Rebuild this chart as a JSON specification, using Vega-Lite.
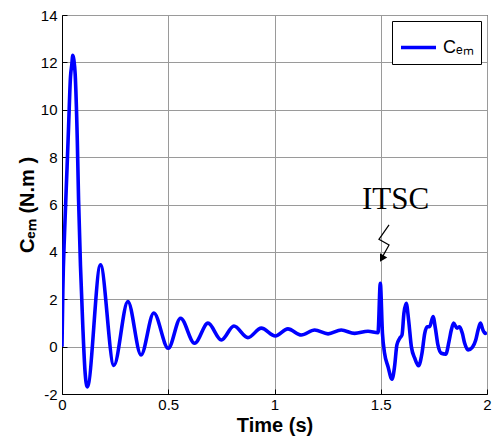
{
  "$schema": "https://vega.github.io/schema/vega-lite/v6.json",
  "autosize": "none",
  "width": 425,
  "height": 379,
  "padding": {"left": 62, "top": 15, "right": 7, "bottom": 42},
  "background": "white",
  "config": {
    "view": {"stroke": "black", "strokeWidth": 1},
    "axis": {
      "domainColor": "black",
      "domainWidth": 1,
      "grid": true,
      "gridColor": "#9a9a9a",
      "gridWidth": 1,
      "tickColor": "black",
      "tickSize": -5,
      "labelFont": "Liberation Sans",
      "labelFontSize": 15,
      "labelColor": "black",
      "titleFont": "Liberation Sans",
      "titleFontSize": 20,
      "titleFontWeight": "bold",
      "titleColor": "black"
    },
    "legend": {
      "orient": "top-right",
      "offset": 6,
      "padding": 7,
      "strokeColor": "black",
      "fillColor": "white",
      "cornerRadius": 0,
      "symbolType": "stroke",
      "symbolSize": 1225,
      "symbolStrokeWidth": 3.5,
      "labelFont": "Liberation Sans",
      "labelFontSize": 18,
      "labelColor": "black",
      "labelOffset": 5
    }
  },
  "layer": [
    {
      "data": {
        "values": [
          {"t": 0, "v": 0}, {"t": 0.004, "v": 2.4}, {"t": 0.012, "v": 4.8}, {"t": 0.024, "v": 7.6},
          {"t": 0.031, "v": 9.3}, {"t": 0.04, "v": 11.4}, {"t": 0.046, "v": 11.9}, {"t": 0.051, "v": 12.3},
          {"t": 0.056, "v": 12.1}, {"t": 0.062, "v": 11.5}, {"t": 0.072, "v": 8.7}, {"t": 0.078, "v": 6.2},
          {"t": 0.087, "v": 3.4}, {"t": 0.098, "v": 0.84}, {"t": 0.108, "v": -1.0}, {"t": 0.119, "v": -1.7},
          {"t": 0.181, "v": 3.45}, {"t": 0.244, "v": -0.79}, {"t": 0.31, "v": 1.9}, {"t": 0.372, "v": -0.35},
          {"t": 0.432, "v": 1.42}, {"t": 0.5, "v": -0.07}, {"t": 0.558, "v": 1.2}, {"t": 0.624, "v": 0.14},
          {"t": 0.687, "v": 0.99}, {"t": 0.75, "v": 0.28}, {"t": 0.809, "v": 0.87}, {"t": 0.875, "v": 0.38},
          {"t": 0.938, "v": 0.78}, {"t": 1.004, "v": 0.45}, {"t": 1.063, "v": 0.75}, {"t": 1.126, "v": 0.49},
          {"t": 1.189, "v": 0.7}, {"t": 1.252, "v": 0.54}, {"t": 1.314, "v": 0.7}, {"t": 1.377, "v": 0.56},
          {"t": 1.44, "v": 0.65}, {"t": 1.487, "v": 0.59}, {"t": 1.498, "v": 2.67}, {"t": 1.508, "v": 0.56},
          {"t": 1.518, "v": -0.28}, {"t": 1.534, "v": -0.84}, {"t": 1.553, "v": -1.38}, {"t": 1.565, "v": -0.84},
          {"t": 1.576, "v": 0.07}, {"t": 1.589, "v": 0.35}, {"t": 1.6, "v": 0.49}, {"t": 1.609, "v": 1.41},
          {"t": 1.62, "v": 1.83}, {"t": 1.631, "v": 1.13}, {"t": 1.644, "v": 0}, {"t": 1.66, "v": -0.49},
          {"t": 1.678, "v": -0.81}, {"t": 1.694, "v": -0.28}, {"t": 1.707, "v": 0.56}, {"t": 1.718, "v": 0.84},
          {"t": 1.73, "v": 0.84}, {"t": 1.746, "v": 1.27}, {"t": 1.757, "v": 0.78}, {"t": 1.769, "v": 0.07},
          {"t": 1.785, "v": -0.28}, {"t": 1.806, "v": -0.32}, {"t": 1.821, "v": 0.21}, {"t": 1.832, "v": 0.7},
          {"t": 1.843, "v": 0.99}, {"t": 1.859, "v": 0.78}, {"t": 1.871, "v": 0.84}, {"t": 1.884, "v": 0.56},
          {"t": 1.895, "v": 0.14}, {"t": 1.911, "v": -0.14}, {"t": 1.931, "v": -0.03}, {"t": 1.947, "v": 0.28},
          {"t": 1.958, "v": 0.7}, {"t": 1.969, "v": 0.99}, {"t": 1.981, "v": 0.7}, {"t": 1.992, "v": 0.56},
          {"t": 2.0, "v": 0.6}
        ]
      },
      "mark": {"type": "line", "interpolate": "monotone", "strokeWidth": 3.6, "clip": true},
      "encoding": {
        "x": {"field": "t", "type": "quantitative", "scale": {"domain": [0, 2], "nice": false},
              "axis": {"values": [0, 0.5, 1, 1.5, 2], "title": "Time (s)", "labelPadding": 8, "titlePadding": 3, "format": "~g", "labelFlush": false}},
        "y": {"field": "v", "type": "quantitative", "scale": {"domain": [-2, 14], "nice": false},
              "axis": {"values": [-2, 0, 2, 4, 6, 8, 10, 12, 14], "title": "Cₑₘ  (N.m )", "labelPadding": 10, "titlePadding": 3,
                       "labelExpr": "replace(datum.label, '−', '-')"}},
        "color": {"datum": "Cₑₘ", "scale": {"range": ["#0000ff"]}, "legend": {"title": null}}
      }
    },
    {
      "data": {"values": [{"t": 1.57, "v": 5.8, "label": "ITSC"}]},
      "mark": {"type": "text", "font": "Liberation Serif", "fontSize": 31, "align": "center", "baseline": "alphabetic", "color": "black"},
      "encoding": {
        "x": {"field": "t", "type": "quantitative"},
        "y": {"field": "v", "type": "quantitative"},
        "text": {"field": "label"}
      }
    },
    {
      "data": {"values": [
        {"t": 1.539, "v": 5.14, "o": 1},
        {"t": 1.4915, "v": 4.53, "o": 2},
        {"t": 1.539, "v": 4.29, "o": 3},
        {"t": 1.507, "v": 3.78, "o": 4}
      ]},
      "mark": {"type": "line", "color": "black", "strokeWidth": 1.2},
      "encoding": {
        "x": {"field": "t", "type": "quantitative"},
        "y": {"field": "v", "type": "quantitative"},
        "order": {"field": "o"}
      }
    },
    {
      "data": {"values": [{"t": 1.505, "v": 3.72}]},
      "mark": {"type": "point", "shape": "triangle-down", "filled": true, "color": "black", "opacity": 1, "size": 70, "angle": 30},
      "encoding": {
        "x": {"field": "t", "type": "quantitative"},
        "y": {"field": "v", "type": "quantitative"}
      }
    }
  ]
}
